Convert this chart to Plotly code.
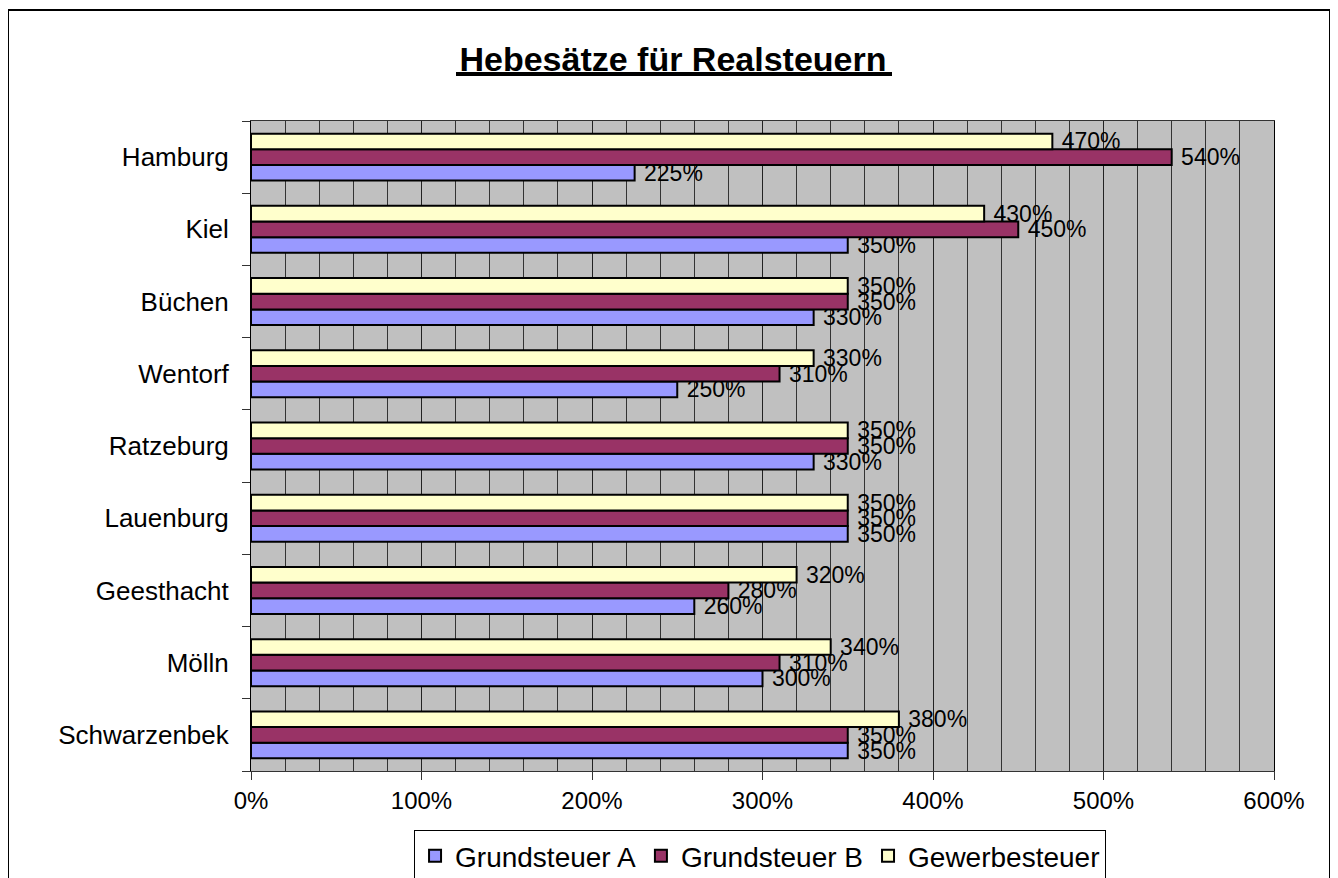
import plotly.graph_objects as go

# Data (top to bottom as shown in the reference)
staedte = ["Hamburg", "Kiel", "Büchen", "Wentorf", "Ratzeburg", "Lauenburg",
           "Geesthacht", "Mölln", "Schwarzenbek"]
grundsteuer_a = [225, 350, 330, 250, 330, 350, 260, 300, 350]
grundsteuer_b = [540, 450, 350, 310, 350, 350, 280, 310, 350]
gewerbesteuer = [470, 430, 350, 330, 350, 350, 320, 340, 380]
x_ticks = [0, 100, 200, 300, 400, 500, 600]

# Plot bottom-up so Hamburg is on top
cats = staedte[::-1]
series = [
    ("Grundsteuer A", grundsteuer_a[::-1], "#9999FF"),
    ("Grundsteuer B", grundsteuer_b[::-1], "#993366"),
    ("Gewerbesteuer", gewerbesteuer[::-1], "#FFFFCC"),
]

FONT = "Liberation Sans, Arial, sans-serif"

fig = go.Figure()
for name, vals, col in series:
    fig.add_trace(go.Bar(
        y=cats, x=vals, name=name, orientation="h",
        marker=dict(color=col, line=dict(color="black", width=2)),
        text=[f"\u00a0{v}%" for v in vals], textposition="outside",
        textfont=dict(family=FONT, size=23, color="black"),
        constraintext="none", cliponaxis=False,
    ))

# page has an 8px body margin, so the figure is 8px smaller than the window
W, H = 1330, 870
L, R, T, B = 243, 64, 113, 107
pw, ph = W - L - R, H - T - B

fig.update_layout(
    width=W, height=H,
    margin=dict(l=L, r=R, t=T, b=B, autoexpand=False),
    barmode="group", bargap=0.35, bargroupgap=0,
    paper_bgcolor="white", plot_bgcolor="#C0C0C0",
    font=dict(family=FONT, color="black", size=22),
    title=dict(text="<b>Hebesätze für Realsteuern</b>",
               font=dict(family=FONT, size=34, color="black"),
               x=665 / W, xanchor="center", y=1 - 51 / H, yanchor="middle"),
    showlegend=True,
    legend=dict(orientation="h", traceorder="normal",
                x=0.4976, xanchor="center", y=-59 / ph, yanchor="top",
                bgcolor="white", bordercolor="black", borderwidth=1,
                font=dict(family=FONT, size=28, color="black"),
                itemwidth=30),
    xaxis=dict(range=[0, 600], tickvals=x_ticks,
               ticktext=[f"{v}%" for v in x_ticks],
               showgrid=True, gridcolor="#222", gridwidth=1,
               minor=dict(dtick=20, showgrid=True, gridcolor="#333", gridwidth=1),
               showline=True, linecolor="#333", linewidth=1, mirror=True,
               ticks="outside", ticklen=8, tickcolor="#333",
               tickfont=dict(family=FONT, size=24, color="black"),
               zeroline=False, fixedrange=True),
    yaxis=dict(categoryorder="array", categoryarray=cats,
               showline=True, linecolor="black", linewidth=1, mirror=True,
               ticks="outside", tickson="boundaries", ticklen=8, tickcolor="#333",
               ticklabelstandoff=16,
               tickfont=dict(family=FONT, size=26, color="black"),
               showgrid=False, fixedrange=True),
)

# outer chart border (open at the bottom, it runs past the window)
x0b, x1b = (0 - L) / pw, (1322 - L) / pw
y0b, y1b = (H - B - 900) / ph, (H - B - 2) / ph
fig.add_shape(type="path", xref="paper", yref="paper",
              path=f"M {x0b},{y0b} L {x0b},{y1b} L {x1b},{y1b} L {x1b},{y0b}",
              line=dict(color="black", width=2), layer="below")
# thick title underline
fig.add_shape(type="line", xref="paper", yref="paper",
              x0=(448 - L) / pw, x1=(884 - L) / pw,
              y0=(H - B - 66) / ph, y1=(H - B - 66) / ph,
              line=dict(color="black", width=4))

fig.write_html("out.html")
